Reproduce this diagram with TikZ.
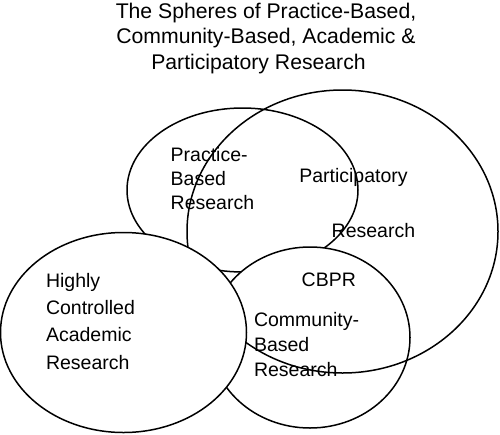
\documentclass[tikz,border=0pt]{standalone}
\usepackage{fontspec}
\setmainfont{Liberation Sans}
\usetikzlibrary{shapes.geometric}
\begin{document}
\begin{tikzpicture}[x=1pt,y=-1pt,
  sphere/.style={ellipse,draw=black,line width=1.5pt,inner sep=0pt,outer sep=0pt},
  filled/.style={sphere,fill=white},
  lbl/.style={inner sep=0pt,outer sep=0pt,anchor=base west,align=left,font=\fontsize{19.5}{#1}\selectfont},
  lbl/.default=27]
\useasboundingbox (0,0) rectangle (500,434);
% spheres
\node[filled,minimum width=231pt,minimum height=164pt] (practice) at (242.5,190) {};
\node[filled,minimum width=200pt,minimum height=181pt] (cbpr) at (310,337.5) {};
\node[sphere,minimum width=311pt,minimum height=283pt] (particip) at (342.5,231.5) {};
\node[filled,minimum width=246pt,minimum height=200pt] (academic) at (123.5,332.5) {};
% title (base anchor = last line)
\node[inner sep=0pt,anchor=base,align=center,font=\fontsize{21.2}{25.5}\selectfont] (title) at (266,69.3)
  {The Spheres of Practice-Based,\\Community-Based, Academic \&\\Participatory Research\hspace*{15pt}};
% labels (base anchor = last line)
\node[lbl=23.7] (practicetext) at (170.7,209.3) {Practice-\\Based\\Research};
\node[lbl] (participtext) at (299.3,182.3) {Participatory};
\node[lbl] (participtext2) at (331.7,237.3) {Research};
\node[lbl] (cbprtext) at (301.7,286) {CBPR};
\node[lbl=25] (communitytext) at (254,376.7) {Community-\\Based\\Research};
\node[lbl=27.2] (academictext) at (46,369) {Highly\\Controlled\\Academic\\Research};
\end{tikzpicture}
\end{document}
